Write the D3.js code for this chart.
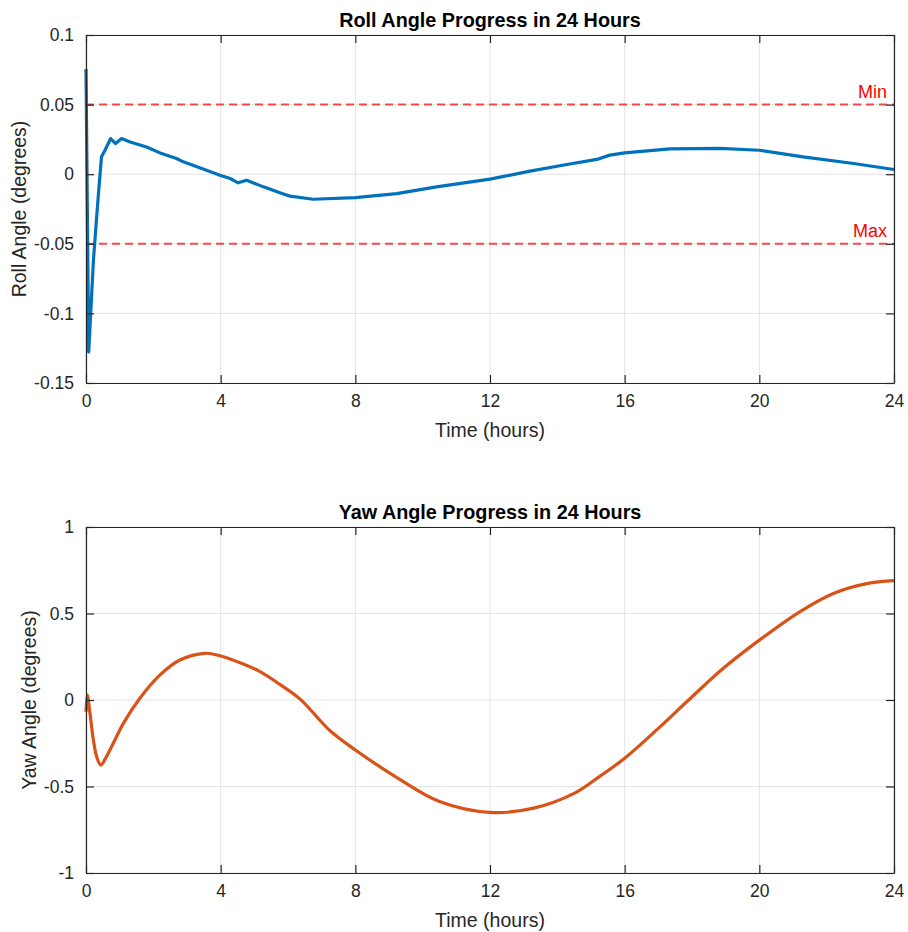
<!DOCTYPE html>
<html>
<head>
<meta charset="utf-8">
<script src="https://cdn.jsdelivr.net/npm/d3@7"></script>
<style>
  html, body { margin: 0; padding: 0; background: #fff; }
  svg { display: block; font-family: "Liberation Sans", Arial, Helvetica, sans-serif; }
</style>
</head>
<body>
<svg id="chart" width="908" height="932"></svg>
<script>
// ---------- DATA ----------
const rollHours = [0, 0.08, 0.15, 0.22, 0.30, 0.37, 0.46, 0.56, 0.65, 0.73, 0.88, 1.06, 1.31, 1.8, 2.2, 2.69, 2.89, 3.58, 3.98, 4.28, 4.52, 4.77, 5.27, 5.76, 6.06, 6.75, 8.0, 9.23, 10.41, 12.0, 13.19, 14.2, 15.17, 15.56, 16.0, 17.34, 18.83, 20.0, 21.3, 22.8, 24.0];
const rollValues = [0.0755, -0.1277, -0.095, -0.062, -0.036, -0.014, 0.0125, 0.017, 0.0215, 0.0256, 0.022, 0.0256, 0.0232, 0.0196, 0.0153, 0.0113, 0.0089, 0.0029, -0.0007, -0.0031, -0.0062, -0.0043, -0.0091, -0.0134, -0.0158, -0.0180, -0.0168, -0.0139, -0.0091, -0.0035, 0.0022, 0.0066, 0.0106, 0.0137, 0.0153, 0.0182, 0.0185, 0.0172, 0.0124, 0.0077, 0.0034];

const yawHours = [0, 0.04, 0.12, 0.22, 0.32, 0.44, 0.6, 0.81, 1.11, 1.6, 2.2, 2.79, 3.53, 3.98, 4.67, 5.17, 5.76, 6.36, 7.25, 8.0, 9.33, 10.5, 12.0, 13.3, 14.5, 15.27, 16.0, 16.95, 17.9, 18.93, 20.0, 21.2, 22.2, 23.19, 24.0];
const yawValues = [-0.068, 0.029, -0.08, -0.231, -0.33, -0.376, -0.33, -0.25, -0.135, 0.01, 0.145, 0.231, 0.27, 0.256, 0.208, 0.164, 0.09, 0.005, -0.178, -0.289, -0.46, -0.587, -0.65, -0.625, -0.54, -0.44, -0.337, -0.173, 0.0, 0.183, 0.346, 0.51, 0.616, 0.673, 0.69];

const xTicks = [0, 4, 8, 12, 16, 20, 24];
const rollTicks = [-0.15, -0.1, -0.05, 0, 0.05, 0.1];
const yawTicks = [-1, -0.5, 0, 0.5, 1];
const limitValues = [0.05, -0.05];
const limitLabels = ["Min", "Max"];

const titles = ["Roll Angle Progress in 24 Hours", "Yaw Angle Progress in 24 Hours"];
const yLabels = ["Roll Angle (degrees)", "Yaw Angle (degrees)"];
const xLabel = "Time (hours)";

// ---------- DRAW ----------
const svg = d3.select("#chart");
const left = 86, right = 894;
const fmt = d => String(+(+d).toFixed(2));

function panel(cfg) {
  const g = svg.append("g");
  const x = d3.scaleLinear().domain([0, 24]).range([left, right]);
  const y = d3.scaleLinear().domain(cfg.yDomain).range([cfg.bottom, cfg.top]);

  // grid
  g.append("g").selectAll("line").data(xTicks).join("line")
    .attr("x1", d => x(d)).attr("x2", d => x(d))
    .attr("y1", cfg.top).attr("y2", cfg.bottom)
    .attr("stroke", "#e3e3e3").attr("stroke-width", 1);
  g.append("g").selectAll("line").data(cfg.yTicks).join("line")
    .attr("x1", left).attr("x2", right)
    .attr("y1", d => y(d)).attr("y2", d => y(d))
    .attr("stroke", "#e3e3e3").attr("stroke-width", 1);

  // limit lines
  if (cfg.limits) {
    cfg.limits.forEach((v, i) => {
      g.append("line")
        .attr("x1", left).attr("x2", right)
        .attr("y1", y(v)).attr("y2", y(v))
        .attr("stroke", "#ff0000").attr("stroke-opacity", 0.7)
        .attr("stroke-width", 2).attr("stroke-dasharray", "8,5");
      g.append("text")
        .attr("x", right - 7).attr("y", y(v) - 7)
        .attr("text-anchor", "end")
        .attr("font-size", 18).attr("fill", "#ff0000")
        .text(limitLabels[i]);
    });
  }

  // data line
  const line = d3.line().x(d => x(d[0])).y(d => y(d[1])).curve(cfg.curve);
  g.append("path")
    .datum(d3.zip(cfg.hours, cfg.values))
    .attr("fill", "none").attr("stroke", cfg.color)
    .attr("stroke-width", 3.2).attr("stroke-linejoin", "round")
    .attr("d", line);

  // axes (box with inward ticks)
  const tickLen = 8;
  const axB = g.append("g").attr("transform", `translate(0,${cfg.bottom})`)
    .call(d3.axisBottom(x).tickValues(xTicks).tickSizeInner(-tickLen).tickSizeOuter(0).tickPadding(12).tickFormat(fmt));
  const axT = g.append("g").attr("transform", `translate(0,${cfg.top})`)
    .call(d3.axisTop(x).tickValues(xTicks).tickSizeInner(-tickLen).tickSizeOuter(0).tickFormat(""));
  const axL = g.append("g").attr("transform", `translate(${left},0)`)
    .call(d3.axisLeft(y).tickValues(cfg.yTicks).tickSizeInner(-tickLen).tickSizeOuter(0).tickPadding(12).tickFormat(fmt));
  const axR = g.append("g").attr("transform", `translate(${right},0)`)
    .call(d3.axisRight(y).tickValues(cfg.yTicks).tickSizeInner(-tickLen).tickSizeOuter(0).tickFormat(""));
  [axB, axT, axL, axR].forEach(a => {
    a.select(".domain").attr("stroke", "#262626").attr("stroke-width", 1.2);
    a.selectAll(".tick line").attr("stroke", "#262626").attr("stroke-width", 1.2);
    a.selectAll("text").attr("fill", "#262626").attr("font-size", 17.5)
      .attr("font-family", '"Liberation Sans", Arial, sans-serif');
  });

  // title
  g.append("text")
    .attr("x", (left + right) / 2).attr("y", cfg.top - 8)
    .attr("text-anchor", "middle").attr("font-weight", "bold")
    .attr("font-size", 19.8).attr("fill", "#000")
    .text(cfg.title);
  // x label
  g.append("text")
    .attr("x", (left + right) / 2).attr("y", cfg.bottom + 54)
    .attr("text-anchor", "middle").attr("font-size", 19.5).attr("fill", "#262626")
    .text(xLabel);
  // y label
  g.append("text")
    .attr("transform", `translate(${cfg.yLabelX},${(cfg.top + cfg.bottom) / 2}) rotate(-90)`)
    .attr("text-anchor", "middle").attr("font-size", 19.5).attr("fill", "#262626")
    .text(cfg.yLabel);
}

panel({
  top: 35, bottom: 383, yDomain: [-0.15, 0.1], yTicks: rollTicks,
  hours: rollHours, values: rollValues, color: "#0072BD",
  curve: d3.curveLinear, limits: limitValues,
  title: titles[0], yLabel: yLabels[0], yLabelX: 26
});
panel({
  top: 527, bottom: 873, yDomain: [-1, 1], yTicks: yawTicks,
  hours: yawHours, values: yawValues, color: "#D95319",
  curve: d3.curveCatmullRom.alpha(0.5), limits: null,
  title: titles[1], yLabel: yLabels[1], yLabelX: 36
});
</script>
</body>
</html>
